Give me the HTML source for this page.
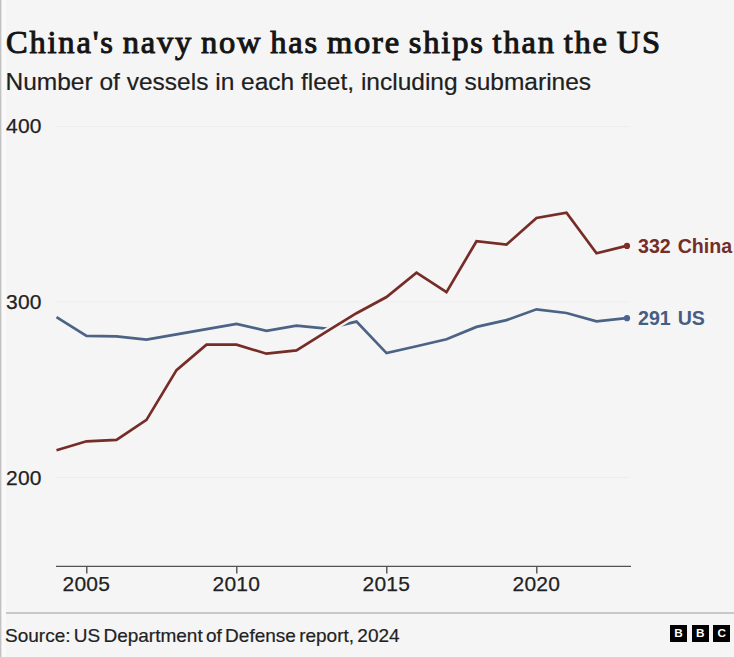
<!DOCTYPE html>
<html>
<head>
<meta charset="utf-8">
<style>
html, body { margin: 0; padding: 0; }
body { width: 734px; height: 657px; background: #f5f5f5; position: relative; overflow: hidden; font-family: "Liberation Sans", sans-serif; }
.lb { position: absolute; left: 0; top: 0; width: 1px; height: 657px; background: #c2c2c2; }
.lb2 { position: absolute; left: 1px; top: 0; width: 1px; height: 657px; background: #e4e4e4; }
.lb3 { position: absolute; left: 2px; top: 0; width: 4px; height: 657px; background: #f9f9f9; }
.t { position: absolute; white-space: nowrap; line-height: 1; }
#title { left: 6px; top: 26px; font-family: "Liberation Serif", serif; font-weight: 400; font-size: 32.5px; color: #141414; letter-spacing: 1.8px; word-spacing: -2px; -webkit-text-stroke: 1px #141414; }
#sub { left: 5.5px; top: 69.5px; font-size: 24.5px; color: #202020; -webkit-text-stroke: 0.2px #202020; }
.yl { left: 6px; font-size: 21px; letter-spacing: 0.2px; color: #222222; -webkit-text-stroke: 0.25px #222222; }
.xl { font-size: 21px; letter-spacing: 0.2px; color: #222222; -webkit-text-stroke: 0.25px #222222; }
#src { left: 5px; top: 626.2px; font-size: 19px; word-spacing: -2px; color: #222222; -webkit-text-stroke: 0.2px #222222; }
svg { position: absolute; left: 0; top: 0; }
.bbc { position: absolute; top: 624.8px; width: 17px; height: 17.4px; background: #000; color: #fff; font-weight: 700; font-size: 11.8px; line-height: 17.6px; text-align: center; }
</style>
</head>
<body>
<div class="lb3"></div><div class="lb2"></div><div class="lb"></div>
<div class="t" id="title">China's navy now has more ships than the US</div>
<div class="t" id="sub">Number of vessels in each fleet, including submarines</div>

<svg width="734" height="657" viewBox="0 0 734 657">
  <g stroke="#ededed" stroke-width="1">
    <line x1="56" y1="126.5" x2="630" y2="126.5"/>
    <line x1="56" y1="301.8" x2="630" y2="301.8"/>
    <line x1="56" y1="477.6" x2="630" y2="477.6"/>
  </g>
  <g stroke="#525252" stroke-width="1.4">
    <line x1="56" y1="566.4" x2="631" y2="566.4"/>
    <line x1="86.8" y1="566" x2="86.8" y2="573.5"/>
    <line x1="236.8" y1="566" x2="236.8" y2="573.5"/>
    <line x1="386.8" y1="566" x2="386.8" y2="573.5"/>
    <line x1="536.8" y1="566" x2="536.8" y2="573.5"/>
  </g>
  <g fill="none" stroke-linejoin="miter" stroke-linecap="butt">
    <path d="M56.5 317.2 L86.5 335.9 L116.5 336.4 L146.5 339.6 L176.5 334.4 L206.5 329.2 L236.5 324.0 L266.5 330.8 L296.5 325.7 L326.5 328.6 L356.5 321.6 L386.5 353.1 L416.5 346.3 L446.5 339.2 L476.5 326.9 L506.5 320.1 L536.5 309.3 L566.5 313.0 L596.5 321.3 L626.5 318.2" stroke="#f5f5f5" stroke-width="6"/>
    <path d="M56.5 317.2 L86.5 335.9 L116.5 336.4 L146.5 339.6 L176.5 334.4 L206.5 329.2 L236.5 324.0 L266.5 330.8 L296.5 325.7 L326.5 328.6 L356.5 321.6 L386.5 353.1 L416.5 346.3 L446.5 339.2 L476.5 326.9 L506.5 320.1 L536.5 309.3 L566.5 313.0 L596.5 321.3 L626.5 318.2" stroke="#4c6386" stroke-width="2.7"/>
    <path d="M56.5 450.3 L86.5 441.3 L116.5 439.8 L146.5 419.9 L176.5 370.1 L206.5 344.7 L236.5 344.7 L266.5 353.7 L296.5 350.4 L326.5 331.7 L356.5 313.2 L386.5 297.0 L416.5 272.6 L446.5 292.1 L476.5 241.2 L506.5 244.6 L536.5 218.0 L566.5 212.7 L596.5 253.3 L626.5 245.9" stroke="#f5f5f5" stroke-width="7"/>
    <path d="M56.5 450.3 L86.5 441.3 L116.5 439.8 L146.5 419.9 L176.5 370.1 L206.5 344.7 L236.5 344.7 L266.5 353.7 L296.5 350.4 L326.5 331.7 L356.5 313.2 L386.5 297.0 L416.5 272.6 L446.5 292.1 L476.5 241.2 L506.5 244.6 L536.5 218.0 L566.5 212.7 L596.5 253.3 L626.5 245.9" stroke="#762c27" stroke-width="2.7"/>
  </g>
  <circle cx="627" cy="318.2" r="3.1" fill="#4a6390"/>
  <circle cx="627" cy="245.9" r="3.1" fill="#7e2e27"/>
  <line x1="6" y1="613" x2="734" y2="613" stroke="#c8c8c8" stroke-width="2"/>
</svg>

<div class="t yl" style="top:115.4px">400</div>
<div class="t yl" style="top:291.4px">300</div>
<div class="t yl" style="top:466.6px">200</div>

<div class="t xl" style="left:62.5px;top:572.9px">2005</div>
<div class="t xl" style="left:212.5px;top:572.9px">2010</div>
<div class="t xl" style="left:362.5px;top:572.9px">2015</div>
<div class="t xl" style="left:512.5px;top:572.9px">2020</div>

<div class="t" style="left:638px;top:236.8px;font-size:19.6px;font-weight:700;word-spacing:1.5px;color:#732e29">332 China</div>
<div class="t" style="left:638px;top:309.2px;font-size:19.6px;font-weight:700;word-spacing:1.5px;color:#465e84">291 US</div>

<div class="t" id="src">Source: US Department of Defense report, 2024</div>

<div class="bbc" style="left:670.1px">B</div>
<div class="bbc" style="left:691.7px">B</div>
<div class="bbc" style="left:713.2px">C</div>
</body>
</html>
